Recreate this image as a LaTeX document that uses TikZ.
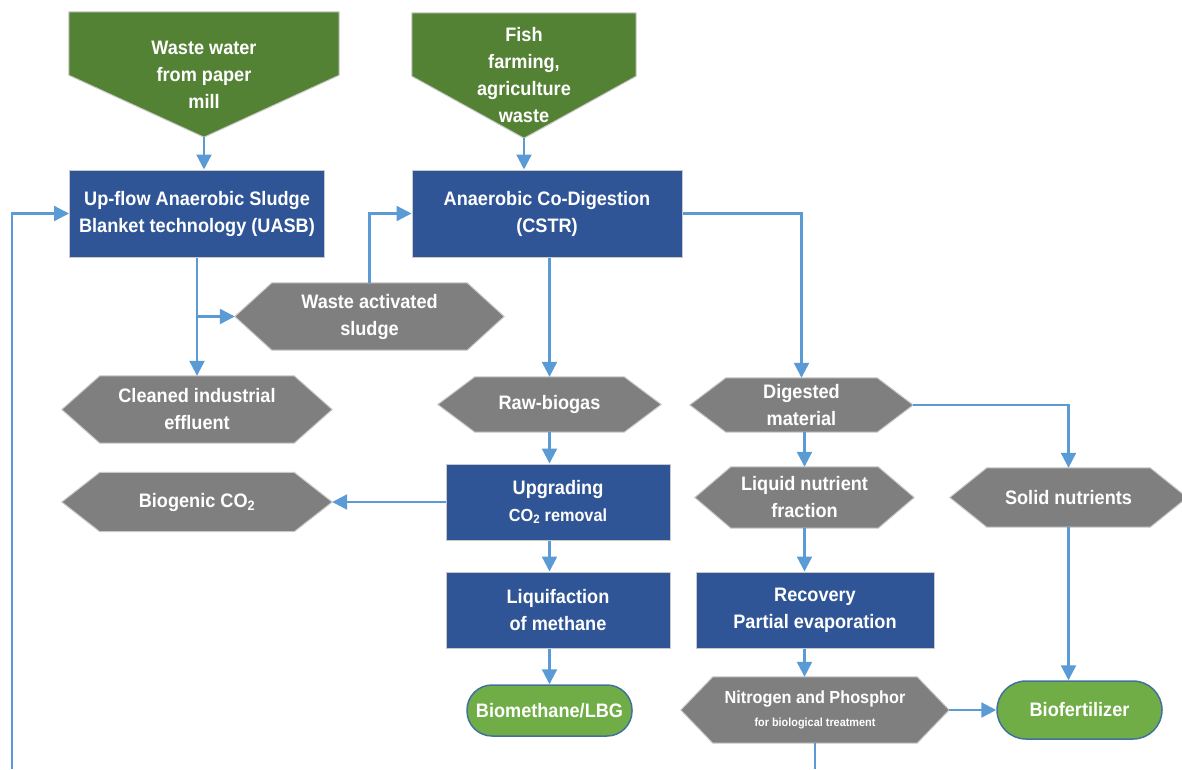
\documentclass[tikz,border=0pt]{standalone}
\usepackage{fontspec}
\setmainfont{Liberation Sans}[FakeStretch=0.93]
\usetikzlibrary{arrows.meta,backgrounds}

\definecolor{srcgreen}{HTML}{548235}
\definecolor{procblue}{HTML}{2F5597}
\definecolor{prodgrey}{HTML}{7F7F7F}
\definecolor{endgreen}{HTML}{70AD47}
\definecolor{endedge}{HTML}{41719C}
\definecolor{flow}{HTML}{5B9BD5}
\definecolor{rim}{HTML}{C9C9C9}

\begin{document}
\begin{tikzpicture}[x=1pt,y=-1pt,
  every node/.style={text=white, font=\bfseries\fontsize{19.5}{27}\selectfont,
                     align=center, inner sep=0pt},
  process/.style={rectangle, fill=procblue, draw=rim, line width=1pt},
  frame/.style={rectangle, draw=none},
  product/.style={fill=prodgrey, draw=rim, line width=1pt},
  source/.style={fill=srcgreen, draw=rim, line width=1pt},
  final/.style={rectangle, rounded corners=25pt, fill=endgreen, draw=endedge, line width=1.5pt},
  flowline/.style={draw=flow, line width=2.3pt},
  flowarrow/.style={flowline, -{Triangle[length=15pt,width=15pt]}},
]
\useasboundingbox (0,0) rectangle (1182,769);

% feedstock inputs (downward pentagons)
\node[frame, minimum width=270pt, minimum height=125pt] (ww) at (204,74.5)
  {Waste water\\from paper\\mill};
\node[frame, minimum width=224pt, minimum height=125pt] (fish) at (524,75.5)
  {Fish\\farming,\\agriculture\\waste};

% process steps
\node[process, minimum width=255pt, minimum height=87pt] (uasb) at (197,213.5)
  {Up-flow Anaerobic Sludge\\Blanket technology (UASB)};
\node[process, minimum width=270pt, minimum height=87pt] (cstr) at (547,213.5)
  {Anaerobic Co-Digestion\\(CSTR)};
\node[process, minimum width=224pt, minimum height=76pt] (upg) at (558,502)
  {Upgrading\\{\fontsize{17.5}{27}\selectfont CO\textsubscript{2} removal}};
\node[process, minimum width=224pt, minimum height=76pt] (liq) at (558,610)
  {Liquifaction\\of methane};
\node[process, minimum width=238pt, minimum height=76pt] (rec) at (815,610)
  {Recovery\\Partial evaporation};

% intermediate products (hexagons, outlines drawn behind)
\node[frame, minimum width=269pt, minimum height=67pt] (was) at (369.5,316.5)
  {Waste activated\\sludge};
\node[frame, minimum width=270pt, minimum height=67pt] (cie) at (197,409.5)
  {Cleaned industrial\\effluent};
\node[frame, minimum width=223pt, minimum height=55pt] (raw) at (549.5,404.5)
  {Raw-biogas};
\node[frame, minimum width=223pt, minimum height=54pt] (dig) at (801.5,405)
  {Digested\\material};
\node[frame, minimum width=270pt, minimum height=59pt] (co2) at (197,502)
  {Biogenic CO\textsubscript{2}};
\node[frame, minimum width=219pt, minimum height=61pt] (lnf) at (804.5,497.5)
  {Liquid nutrient\\fraction};
\node[frame, minimum width=237pt, minimum height=59pt] (sol) at (1068.5,497.5)
  {Solid nutrients};
\node[frame, minimum width=268pt, minimum height=66pt,
      font=\bfseries\fontsize{17.5}{23}\selectfont] (np) at (815,710)
  {Nitrogen and Phosphor\\{\fontsize{11.7}{23}\selectfont for biological treatment}};

% end products
\node[final, minimum width=165pt, minimum height=51pt] (bio) at (549.5,710.5)
  {Biomethane/LBG};
\node[final, rounded corners=29pt, minimum width=165pt, minimum height=58pt] (biof) at (1079.5,710)
  {Biofertilizer};

\begin{scope}[on background layer]
  \foreach \n in {ww,fish}
    \path[source] (\n.north west) -- (\n.north east) -- ([yshift=62pt]\n.south east)
      -- (\n.south) -- ([yshift=62pt]\n.south west) -- cycle;
  \foreach \n/\s in {was/37,cie/38,raw/37,dig/36,co2/38,lnf/36,sol/37,np/32}
    \path[product] (\n.west) -- ([xshift=\s pt]\n.north west) -- ([xshift=-\s pt]\n.north east)
      -- (\n.east) -- ([xshift=-\s pt]\n.south east) -- ([xshift=\s pt]\n.south west) -- cycle;
\end{scope}

% loose ends leaving the sheet at the bottom
\coordinate (loopL) at (12,769);
\coordinate (loopR) at (815,769);

% connectors
\draw[flowarrow] (ww.south) -- (ww.south |- uasb.north);
\draw[flowarrow] (fish.south) -- (fish.south |- cstr.north);
\draw[flowarrow] (loopL) |- (uasb.west);
\draw[flowarrow] (uasb.south) -- (cie.north);
\draw[flowarrow] (uasb.south |- was.west) -- (was.west);
\draw[flowarrow] (was.north) |- (cstr.west);
\draw[flowarrow] (raw.north |- cstr.south) -- (raw.north);
\draw[flowarrow] (cstr.east) -| (dig.north);
\draw[flowarrow] (raw.south) -- (raw.south |- upg.north);
\draw[flowarrow] (upg.west) -- (co2.east);
\draw[flowarrow] (raw.south |- upg.south) -- (raw.south |- liq.north);
\draw[flowarrow] (bio.north |- liq.south) -- (bio.north);
\draw[flowarrow] (lnf.north |- dig.south) -- (lnf.north);
\draw[flowarrow] (lnf.south) -- (lnf.south |- rec.north);
\draw[flowarrow] (lnf.south |- rec.south) -- (lnf.south |- np.north);
\draw[flowarrow] (dig.east) -| (sol.north);
\draw[flowarrow] (sol.south) -- (sol.south |- biof.north);
\draw[flowarrow] (np.east) -- (biof.west);
\draw[flowline] (np.south) -- (loopR);
\end{tikzpicture}
\end{document}
